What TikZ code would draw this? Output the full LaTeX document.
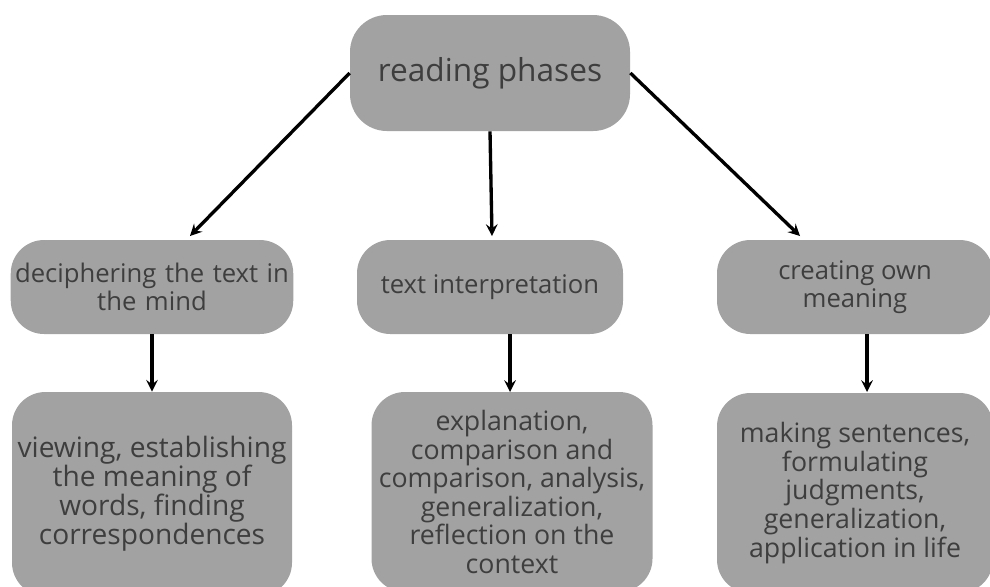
\documentclass[tikz,border=0pt]{standalone}
\usepackage{fontspec}
\setmainfont{Open Sans}
\usepackage{xcolor}

\definecolor{boxgray}{RGB}{162,162,162}
\definecolor{textgray}{RGB}{62,62,62}

\tikzset{
  phase/.style={fill=boxgray, rounded corners=19pt, text=textgray, align=center, inner sep=1pt},
  link/.style={line width=1.9pt, ->, >=stealth}
}

\begin{document}
\begin{tikzpicture}[x=0.02cm, y=-0.02cm]
				\useasboundingbox (0,0) rectangle (990,586);
				\clip (0,0) rectangle (990,586);

				% Root
				\node[phase, rounded corners=21pt, minimum width=280*0.02cm, minimum height=116*0.02cm, font=\fontsize{18}{21}\selectfont] (root) at (490,73) {reading phases};

				% Phases
				\node[phase, minimum width=281*0.02cm, minimum height=94*0.02cm, text width=279*0.02cm, font=\fontsize{14.6}{14.5}\selectfont] (decipher) at (152,287) {deciphering the text in\\the mind};
				\node[phase, minimum width=266*0.02cm, minimum height=94*0.02cm, font=\fontsize{14.6}{16}\selectfont] (interp) at (490,287) {text interpretation};
				\node[phase, minimum width=276*0.02cm, minimum height=94*0.02cm, font=\fontsize{14.6}{16}\selectfont] (meaning) at (855,287) {creating own\\meaning};

				% Details
				\node[phase, minimum width=280*0.02cm, minimum height=204*0.02cm, font=\fontsize{16}{16.5}\selectfont] (view) at (152,494) {viewing, establishing\\the meaning of\\words, finding\\correspondences};
				\node[phase, minimum width=281*0.02cm, minimum height=200*0.02cm, font=\fontsize{15.2}{16.3}\selectfont] (explain) at (512,492) {explanation,\\comparison and\\comparison, analysis,\\generalization,\\reflection on the\\context};
				\node[phase, minimum width=276*0.02cm, minimum height=200*0.02cm, font=\fontsize{15.2}{16.3}\selectfont] (judge) at (855,493) {making sentences,\\formulating\\judgments,\\generalization,\\application in life};

				% Arrow ends
				\coordinate (decipher top) at (190,236);
				\coordinate (interp top) at (492,236);
				\coordinate (meaning top) at (800,236);
				\coordinate (interp foot) at (510,334);
				\coordinate (explain top) at (510,392);
				\coordinate (meaning foot) at (867,334);
				\coordinate (judge top) at (867,392);

				% Arrows
				\draw[link] (root.west) -- (decipher top);
				\draw[link] (root.south) -- (interp top);
				\draw[link] (root.east) -- (meaning top);
				\draw[link] (decipher.south) -- (view.north);
				\draw[link] (interp foot) -- (explain top);
				\draw[link] (meaning foot) -- (judge top);
			\end{tikzpicture}
\end{document}
